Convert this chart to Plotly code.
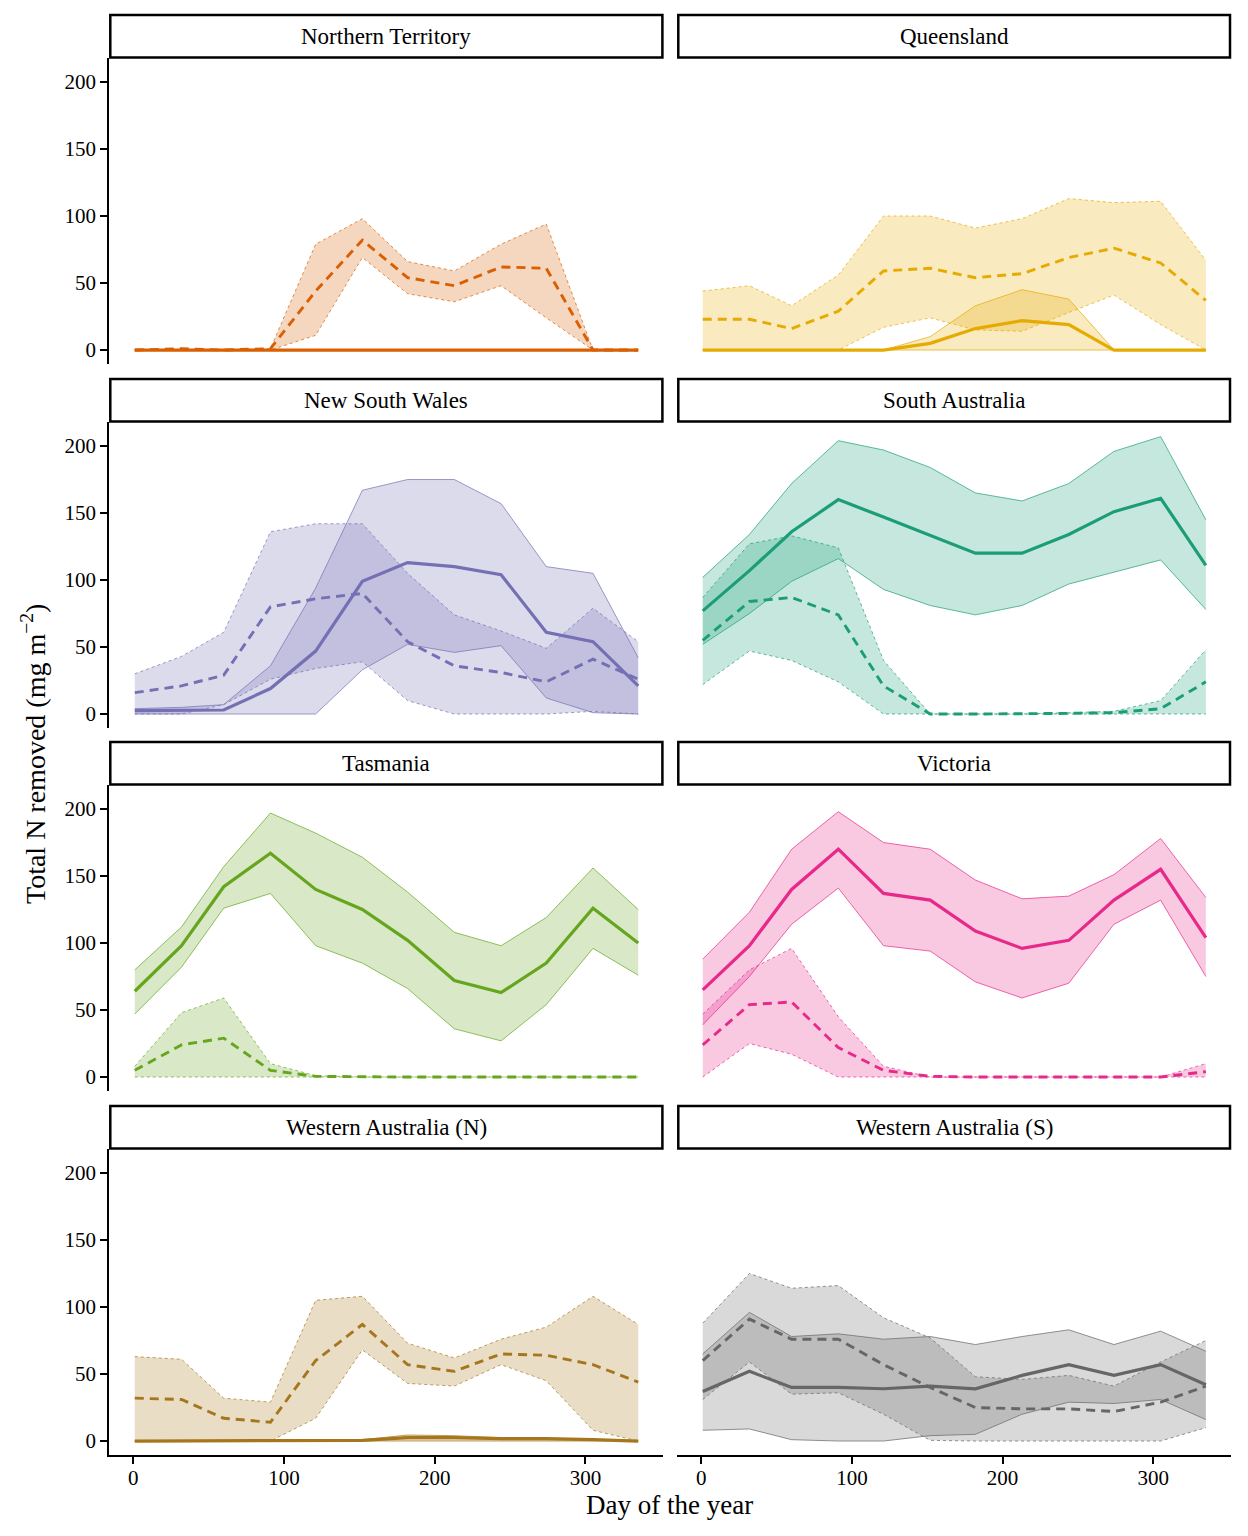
import plotly.graph_objects as go

# the page body has an 8px margin: work in reference pixels and shift by OFF
OFF = 8
W, H = 1248 - OFF, 1536 - OFF

days = [1, 32, 60, 91, 121, 152, 182, 213, 244, 274, 305, 335]

# Northern Territory
nt_solid = [0, 0, 0, 0, 0, 0, 0, 0, 0, 0, 0, 0]
nt_solid_lo = [0, 0, 0, 0, 0, 0, 0, 0, 0, 0, 0, 0]
nt_solid_hi = [0, 0, 0, 0, 0, 0, 0, 0, 0, 0, 0, 0]
nt_dash = [0, 1, 0, 1, 44, 82, 54, 48, 62, 61, 0, 0]
nt_dash_lo = [0, 0, 0, 0, 11, 69, 42, 36, 48, 24, 0, 0]
nt_dash_hi = [0, 0, 0, 1, 79, 98, 66, 59, 79, 94, 0, 0]

# Queensland
qld_solid = [0, 0, 0, 0, 0, 5, 16, 22, 19, 0, 0, 0]
qld_solid_lo = [0, 0, 0, 0, 0, 0, 0, 0, 0, 0, 0, 0]
qld_solid_hi = [0, 0, 0, 0, 0, 10, 33, 45, 38, 0, 0, 0]
qld_dash = [23, 23, 16, 29, 59, 61, 54, 57, 69, 76, 65, 37]
qld_dash_lo = [0, 0, 0, 0, 17, 24, 15, 14, 28, 41, 19, 0]
qld_dash_hi = [44, 48, 33, 56, 100, 100, 91, 98, 113, 110, 111, 67]

# New South Wales
nsw_solid = [2.5, 2.5, 3, 19, 47, 99, 113, 110, 104, 61, 54, 21]
nsw_solid_lo = [0, 0, 0, 0, 0, 33, 52, 46, 51, 12, 1, 0]
nsw_solid_hi = [4, 5, 7, 36, 94, 167, 175, 175, 157, 110, 105, 42]
nsw_dash = [16, 21, 29, 80, 86, 90, 54, 36, 31, 24, 41, 26]
nsw_dash_lo = [0, 0, 7, 26, 34, 39, 10, 0, 0, 0, 2, 0]
nsw_dash_hi = [30, 43, 61, 136, 142, 142, 105, 74, 62, 49, 79, 54]

# South Australia
sa_solid = [77, 107, 136, 160, 147, 133, 120, 120, 134, 151, 161, 111]
sa_solid_lo = [52, 75, 99, 116, 93, 81, 74, 81, 97, 106, 115, 78]
sa_solid_hi = [102, 134, 172, 204, 197, 184, 165, 159, 172, 196, 207, 145]
sa_dash = [55, 84, 87, 74, 21, 0, 0, 0, 0.5, 1, 4, 24]
sa_dash_lo = [22, 47, 40, 24, 0, 0, 0, 0, 0, 0, 0, 0]
sa_dash_hi = [87, 127, 133, 124, 40, 0, 0, 0, 1, 2, 10, 48]

# Tasmania
tas_solid = [64, 98, 142, 167, 140, 125, 102, 72, 63, 85, 126, 100]
tas_solid_lo = [47, 82, 126, 137, 98, 85, 66, 36, 27, 54, 96, 76]
tas_solid_hi = [80, 112, 157, 197, 182, 164, 138, 108, 98, 119, 156, 125]
tas_dash = [5, 24, 29, 5, 0.5, 0, 0, 0, 0, 0, 0, 0]
tas_dash_lo = [0, 0, 0, 0, 0, 0, 0, 0, 0, 0, 0, 0]
tas_dash_hi = [8, 48, 59, 10, 1, 0, 0, 0, 0, 0, 0, 0]

# Victoria
vic_solid = [65, 98, 140, 170, 137, 132, 109, 96, 102, 132, 155, 104]
vic_solid_lo = [39, 75, 114, 141, 98, 94, 71, 59, 70, 114, 132, 75]
vic_solid_hi = [88, 123, 170, 198, 175, 170, 147, 133, 135, 151, 178, 134]
vic_dash = [24, 54, 56, 22, 5, 0.5, 0, 0, 0, 0, 0, 4]
vic_dash_lo = [0, 25, 17, 0, 0, 0, 0, 0, 0, 0, 0, 0]
vic_dash_hi = [47, 80, 96, 45, 8, 0, 0, 0, 0, 0, 0, 10]

# Western Australia (N)
wan_solid = [0, 0, 0, 0, 0, 0.5, 2.5, 2.5, 1.8, 1.8, 1, 0]
wan_solid_lo = [0, 0, 0, 0, 0, 0, 0.5, 0.5, 0.5, 0.5, 0.3, 0]
wan_solid_hi = [0, 0, 0, 0, 0, 1, 4.5, 4, 2.5, 2, 1.2, 0]
wan_dash = [32, 31, 17, 14, 60, 87, 57, 52, 65, 64, 57, 44]
wan_dash_lo = [0, 0, 0, 0, 17, 68, 43, 41, 57, 45, 8, 0]
wan_dash_hi = [63, 61, 32, 29, 105, 108, 73, 62, 76, 85, 108, 87]

# Western Australia (S)
was_solid = [37, 52, 40, 40, 39, 41, 39, 49, 57, 49, 57, 42]
was_solid_lo = [8, 9, 1, 0, 0, 4, 5, 20, 29, 28, 31, 16]
was_solid_hi = [65, 96, 78, 80, 76, 78, 72, 78, 83, 72, 82, 67]
was_dash = [60, 91, 76, 76, 57, 40, 25, 24, 24, 22, 29, 41]
was_dash_lo = [31, 59, 35, 36, 20, 0.5, 0, 0, 0, 0, 0, 10]
was_dash_hi = [88, 125, 114, 116, 92, 77, 48, 46, 49, 41, 59, 75]

region_names = ["Northern Territory", "Queensland", "New South Wales", "South Australia",
                "Tasmania", "Victoria", "Western Australia (N)", "Western Australia (S)"]
region_colors = ["#D95F02", "#E6AB02", "#7570B3", "#1B9E77",
                 "#66A61E", "#E7298A", "#A6761D", "#666666"]

y_ticks = [0, 50, 100, 150, 200]
x_ticks = [0, 100, 200, 300]

series = [
    (nt_solid, nt_solid_lo, nt_solid_hi, nt_dash, nt_dash_lo, nt_dash_hi),
    (qld_solid, qld_solid_lo, qld_solid_hi, qld_dash, qld_dash_lo, qld_dash_hi),
    (nsw_solid, nsw_solid_lo, nsw_solid_hi, nsw_dash, nsw_dash_lo, nsw_dash_hi),
    (sa_solid, sa_solid_lo, sa_solid_hi, sa_dash, sa_dash_lo, sa_dash_hi),
    (tas_solid, tas_solid_lo, tas_solid_hi, tas_dash, tas_dash_lo, tas_dash_hi),
    (vic_solid, vic_solid_lo, vic_solid_hi, vic_dash, vic_dash_lo, vic_dash_hi),
    (wan_solid, wan_solid_lo, wan_solid_hi, wan_dash, wan_dash_lo, wan_dash_hi),
    (was_solid, was_solid_lo, was_solid_hi, was_dash, was_dash_lo, was_dash_hi),
]

FONT = "Liberation Serif"
col_x = [(109.3, 663.4), (677.3, 1231.0)]
row_y = [(57.9, 364.1), (421.9, 728.1), (784.9, 1091.1), (1148.9, 1455.1)]
strip_y = [(15, 57.5), (379, 421.5), (742, 784.5), (1106, 1148.5)]
XR = [-15.9, 351.7]
YR = [-10.5, 218]


def px(x):
    return (x - OFF) / W


def py(y):
    return 1 - (y - OFF) / H


def rgba(hexc, a):
    h = hexc.lstrip("#")
    r, g, b = int(h[0:2], 16), int(h[2:4], 16), int(h[4:6], 16)
    return f"rgba({r},{g},{b},{a})"


fig = go.Figure()
layout = {}
shapes = []
annotations = []

for i, (name, col, s) in enumerate(zip(region_names, region_colors, series)):
    r, c = divmod(i, 2)
    k = i + 1
    xa = "x" if k == 1 else f"x{k}"
    ya = "y" if k == 1 else f"y{k}"
    solid, solid_lo, solid_hi, dash, dash_lo, dash_hi = s

    # ribbons
    for lo, hi, edge in [(solid_lo, solid_hi, "solid"), (dash_lo, dash_hi, "dot")]:
        fig.add_trace(go.Scatter(x=days, y=lo, mode="lines", xaxis=xa, yaxis=ya,
                                 line=dict(color=col, width=0.7, dash=edge),
                                 showlegend=False, hoverinfo="skip"))
        fig.add_trace(go.Scatter(x=days, y=hi, mode="lines", xaxis=xa, yaxis=ya,
                                 fill="tonexty", fillcolor=rgba(col, 0.25),
                                 line=dict(color=col, width=0.7, dash=edge),
                                 showlegend=False, hoverinfo="skip"))
    # lines
    fig.add_trace(go.Scatter(x=days, y=solid, mode="lines", xaxis=xa, yaxis=ya,
                             line=dict(color=col, width=3.2),
                             showlegend=False))
    fig.add_trace(go.Scatter(x=days, y=dash, mode="lines", xaxis=xa, yaxis=ya,
                             line=dict(color=col, width=2.9, dash="9px,6px"),
                             showlegend=False))

    x0, x1 = col_x[c]
    y0, y1 = row_y[r]
    xkey = "xaxis" if k == 1 else f"xaxis{k}"
    ykey = "yaxis" if k == 1 else f"yaxis{k}"
    bottom = r == 3
    left = c == 0
    layout[xkey] = dict(
        domain=[px(x0), px(x1)], range=XR, anchor=ya,
        visible=bottom, showgrid=False, zeroline=False,
        showline=True, linecolor="black", linewidth=2,
        ticks="outside", ticklen=7, tickwidth=1.6, tickcolor="black",
        ticklabelstandoff=-4,
        tickvals=x_ticks, tickfont=dict(family=FONT, size=21, color="black"),
    )
    layout[ykey] = dict(
        domain=[py(y1), py(y0)], range=YR, anchor=xa,
        visible=left, showgrid=False, zeroline=False,
        showline=True, linecolor="black", linewidth=2,
        ticks="outside", ticklen=7, tickwidth=1.6, tickcolor="black",
        tickvals=y_ticks, tickfont=dict(family=FONT, size=21, color="black"),
    )

    sy0, sy1 = strip_y[r]
    shapes.append(dict(type="rect", xref="paper", yref="paper",
                       x0=px(x0 + 1), x1=px(x1 - 1),
                       y0=py(sy1), y1=py(sy0),
                       line=dict(color="black", width=2.5), fillcolor="white"))
    annotations.append(dict(text=name, xref="paper", yref="paper",
                            x=px((x0 + x1) / 2), y=py((sy0 + sy1) / 2),
                            showarrow=False, xanchor="center", yanchor="middle",
                            font=dict(family=FONT, size=23, color="black")))

annotations.append(dict(text="Day of the year", xref="paper", yref="paper",
                        x=px(670), y=py(1505), showarrow=False,
                        xanchor="center", yanchor="middle",
                        font=dict(family=FONT, size=27, color="black")))
annotations.append(dict(text="Total N removed (mg m<sup>\u22122</sup>)", xref="paper", yref="paper",
                        x=px(33), y=py(754), showarrow=False, textangle=-90,
                        xanchor="center", yanchor="middle",
                        font=dict(family=FONT, size=28, color="black")))

fig.update_layout(
    width=W, height=H,
    margin=dict(l=0, r=0, t=0, b=0),
    paper_bgcolor="white", plot_bgcolor="white",
    shapes=shapes, annotations=annotations,
    showlegend=False,
    **layout,
)

fig.write_html("out.html")
